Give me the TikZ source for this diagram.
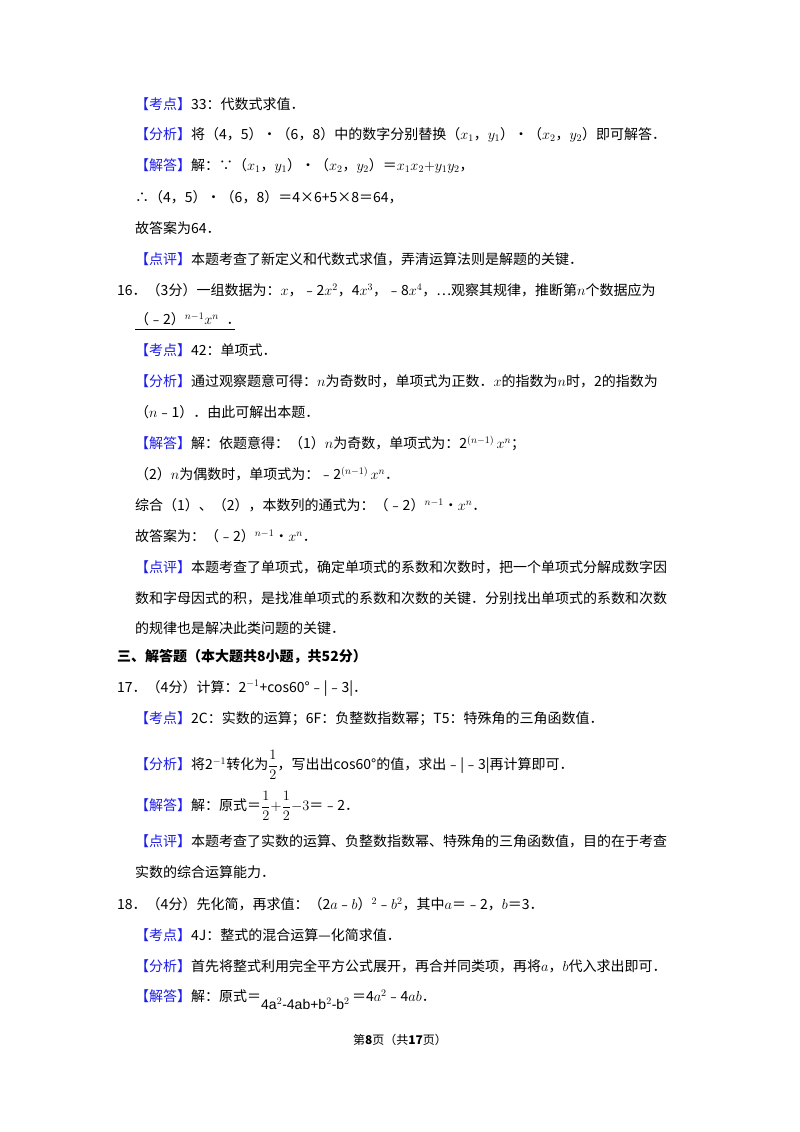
\documentclass[tikz,border=0pt]{standalone}
\usepackage{amsmath}
\usepackage{fontspec}
\setmainfont{Noto Sans CJK SC}
\newfontfamily\lat{Liberation Serif}
\newfontfamily\sansb{Liberation Sans}
\definecolor{kb}{RGB}{30,30,230}
\newcommand{\kd}[1]{\textcolor{kb}{【#1】}}
\begin{document}
\begin{tikzpicture}[x=1pt,y=-1pt,ln/.style={anchor=west,inner sep=0pt,font=\fontsize{14}{16}\selectfont}]
\useasboundingbox[fill=white] (0,0) rectangle (800,1132);
\node[ln] (l1) at (135,104) {\kd{考点}33：代数式求值．};
\node[ln] (l2) at (135,135) {\kd{分析}将（4，5）•（6，8）中的数字分别替换（$x_1$，$y_1$）•（$x_2$，$y_2$）即可解答．};
\node[ln] (l3) at (135,166) {\kd{解答}解：∵（$x_1$，$y_1$）•（$x_2$，$y_2$）＝$x_1x_2{+}y_1y_2$，};
\node[ln] (l4) at (135,197) {∴（4，5）•（6，8）＝4×6+5×8＝64，};
\node[ln] (l5) at (135,228) {故答案为64．};
\node[ln] (l6) at (135,259) {\kd{点评}本题考查了新定义和代数式求值，弄清运算法则是解题的关键．};
\node[ln] (l7) at (117,290) {16．（3分）一组数据为：$x$，﹣2$x^2$，4$x^3$，﹣8$x^4$，…观察其规律，推断第$n$个数据应为};
\node[ln] (l8) at (135,319) {（﹣2）$^{n-1}x^n$\;\;．};
\draw (l8.south west)++(0,3) coordinate (u1) -- ++(100,0) coordinate (u2);
\node[ln] (l9) at (135,350) {\kd{考点}42：单项式．};
\node[ln] (l10) at (135,381) {\kd{分析}通过观察题意可得：$n$为奇数时，单项式为正数．$x$的指数为$n$时，2的指数为};
\node[ln] (l11) at (135,412) {（$n$﹣1）．由此可解出本题．};
\node[ln] (l12) at (135,443) {\kd{解答}解：依题意得：（1）$n$为奇数，单项式为：2$^{(n-1)}\,x^n$；};
\node[ln] (l13) at (135,474) {（2）$n$为偶数时，单项式为：﹣2$^{(n-1)}\,x^n$．};
\node[ln] (l14) at (135,505) {综合（1）、（2），本数列的通式为：（﹣2）$^{n-1}$•$x^n$．};
\node[ln] (l15) at (135,536) {故答案为：（﹣2）$^{n-1}$•$x^n$．};
\node[ln] (l16) at (135,567) {\kd{点评}本题考查了单项式，确定单项式的系数和次数时，把一个单项式分解成数字因};
\node[ln] (l17) at (135,598) {数和字母因式的积，是找准单项式的系数和次数的关键．分别找出单项式的系数和次数};
\node[ln] (l18) at (135,628) {的规律也是解决此类问题的关键．};
\node[ln,font=\fontsize{14}{16}\selectfont\bfseries] (l19) at (117,657) {三、解答题（本大题共8小题，共52分）};
\node[ln] (l20) at (117,688) {17．（4分）计算：2$^{-1}$+cos60°﹣|﹣3|．};
\node[ln] (l21) at (135,719) {\kd{考点}2C：实数的运算；6F：负整数指数幂；T5：特殊角的三角函数值．};
\node[ln] (l22) at (135,765) {\kd{分析}将2$^{-1}$转化为$\dfrac{1}{2}$，写出出cos60°的值，求出﹣|﹣3|再计算即可．};
\node[ln] (l23) at (135,806) {\kd{解答}解：原式＝$\dfrac{1}{2}{+}\dfrac{1}{2}{-}3$＝﹣2．};
\node[ln] (l24) at (135,841) {\kd{点评}本题考查了实数的运算、负整数指数幂、特殊角的三角函数值，目的在于考查};
\node[ln] (l25) at (135,872) {实数的综合运算能力．};
\node[ln] (l26) at (117,904) {18．（4分）先化简，再求值：（2$a$﹣$b$）$^2$﹣$b^2$，其中$a$＝﹣2，$b$＝3．};
\node[ln] (l27) at (135,935) {\kd{考点}4J：整式的混合运算—化简求值．};
\node[ln] (l28) at (135,966) {\kd{分析}首先将整式利用完全平方公式展开，再合并同类项，再将$a$，$b$代入求出即可．};
\node[ln] (l29) at (135,1000) {\kd{解答}解：原式＝\raisebox{-8pt}{\sansb 4a$^{2}$-4ab+b$^{2}$-b$^{2}$}\,＝4$a^2$﹣4$ab$．};
\node[anchor=center,inner sep=0pt,font=\fontsize{12}{14}\selectfont] (ft) at (400,1040) {第\textbf{8}页（共\textbf{17}页）};
\end{tikzpicture}
\end{document}
